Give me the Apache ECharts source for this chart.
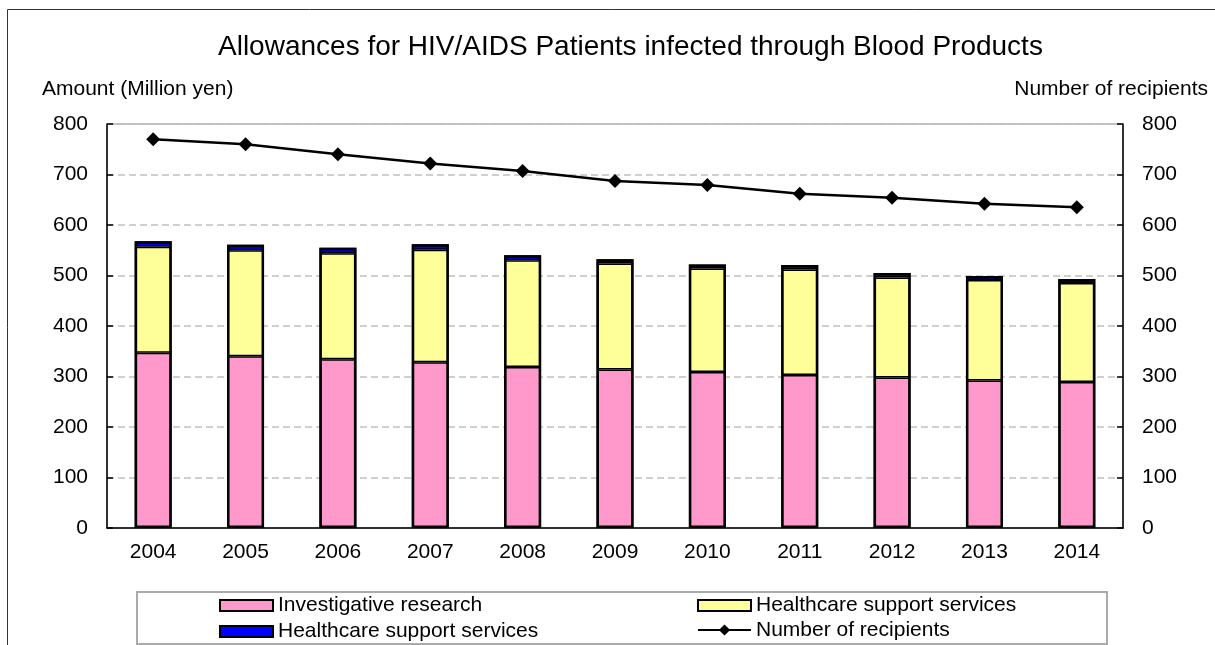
<!DOCTYPE html>
<html>
<head>
<meta charset="utf-8">
<script src="https://cdn.jsdelivr.net/npm/echarts@6/dist/echarts.min.js"></script>
<style>
  html, body { margin: 0; padding: 0; background: #fff; }
  #chart { width: 1215px; height: 645px; }
</style>
</head>
<body>
<div id="chart"></div>
<script>
// Fiscal years
const years = ['2004', '2005', '2006', '2007', '2008', '2009', '2010', '2011', '2012', '2013', '2014'];

// Amounts in million yen
const investigativeResearch = [347, 340, 334, 328, 319, 314, 309, 303, 298, 292, 289];
const healthcareSupportA    = [210, 210, 210, 223, 211, 210, 205, 209, 198, 199, 196];
const healthcareSupportB    = [11, 11, 11, 11, 10, 8, 8, 9, 9, 8, 8];

// Number of recipients
const recipients = [770, 760, 740, 722, 707, 687, 679, 662, 654, 642, 635];

// Shared axis ticks (both axes run 0–800)
const axisMin = 0, axisMax = 800, axisStep = 100;

// Stack totals, used only for the heavy outline around each column
const stackTotals = years.map((_, i) => investigativeResearch[i] + healthcareSupportA[i] + healthcareSupportB[i]);

const FONT = '"Liberation Sans", Arial, sans-serif';
const nameResearch = 'Investigative research';
const nameSupportA = 'Healthcare support services';
const nameSupportB = 'Healthcare support services ';  // same label, distinct series key
const nameRecipients = 'Number of recipients';

const chart = echarts.init(document.getElementById('chart'), null, { renderer: 'canvas' });

const segBorder = { borderColor: '#000', borderWidth: 1.5 };
const legendText = { fontFamily: FONT, fontSize: 21, color: '#000' };

function legendItem(name, left, top, icon, h) {
  return {
    left: left, top: top, orient: 'horizontal',
    itemWidth: 53, itemHeight: h || 11, itemGap: 0,
    textStyle: legendText,
    itemStyle: icon ? { borderColor: '#000', borderWidth: 2 } : {},
    data: [icon ? { name: name, icon: icon } : name]
  };
}

chart.setOption({
  animation: false,
  backgroundColor: '#fff',
  textStyle: { fontFamily: FONT, color: '#000' },
  title: [
    {
      text: 'Allowances for HIV/AIDS Patients infected through Blood Products',
      left: 213, top: 28,
      textStyle: { fontFamily: FONT, fontSize: 28, fontWeight: 'normal', color: '#000' }
    },
    {
      text: 'Amount (Million yen)',
      left: 37, top: 74,
      textStyle: { fontFamily: FONT, fontSize: 21, fontWeight: 'normal', color: '#000' }
    },
    {
      text: 'Number of recipients',
      right: 2, top: 74,
      textStyle: { fontFamily: FONT, fontSize: 21, fontWeight: 'normal', color: '#000' }
    }
  ],
  graphic: [
    {
      type: 'rect', silent: true, z: -10,
      shape: { x: 7.5, y: 9.5, width: 1230, height: 660 },
      style: { fill: 'none', stroke: '#333', lineWidth: 1 }
    },
    {
      type: 'rect', silent: true, z: -5,
      shape: { x: 137, y: 592, width: 970, height: 52 },
      style: { fill: '#fff', stroke: '#aaa', lineWidth: 2 }
    }
  ],
  legend: [
    legendItem(nameResearch, 214, 590, 'rect'),
    legendItem(nameSupportB, 214, 616, 'rect'),
    legendItem(nameSupportA, 692, 590, 'rect'),
    legendItem(nameRecipients, 692, 614.5, null, 14)
  ],
  grid: {
    left: 107, right: 92, top: 124, bottom: 117,
    show: true, borderColor: '#888', borderWidth: 1, backgroundColor: 'transparent'
  },
  xAxis: {
    type: 'category',
    data: years,
    boundaryGap: true,
    axisLine: { lineStyle: { color: '#000', width: 1.5 } },
    axisTick: { inside: true, length: 6, lineStyle: { color: '#000', width: 1.5 } },
    axisLabel: { fontFamily: FONT, fontSize: 21, color: '#000', margin: 14 }
  },
  yAxis: [
    {
      type: 'value', min: axisMin, max: axisMax, interval: axisStep,
      axisLine: { show: true, lineStyle: { color: '#000', width: 1.5 } },
      axisTick: { show: true, inside: true, length: 6, lineStyle: { color: '#000', width: 1.5 } },
      axisLabel: { fontFamily: FONT, fontSize: 21, color: '#000', margin: 19 },
      splitLine: { show: true, lineStyle: { color: '#c0c0c0', width: 1.5, type: [7, 4] } }
    },
    {
      type: 'value', min: axisMin, max: axisMax, interval: axisStep, position: 'right',
      axisLine: { show: true, lineStyle: { color: '#000', width: 1.5 } },
      axisTick: { show: true, inside: true, length: 6, lineStyle: { color: '#000', width: 1.5 } },
      axisLabel: { fontFamily: FONT, fontSize: 21, color: '#000', margin: 19 },
      splitLine: { show: false }
    }
  ],
  series: [
    {
      name: nameResearch, type: 'bar', stack: 'amount', barWidth: 37,
      itemStyle: Object.assign({ color: '#FF99CC' }, segBorder),
      data: investigativeResearch
    },
    {
      name: nameSupportA, type: 'bar', stack: 'amount', barWidth: 37,
      itemStyle: Object.assign({ color: '#FFFF99' }, segBorder),
      data: healthcareSupportA
    },
    {
      name: nameSupportB, type: 'bar', stack: 'amount', barWidth: 37,
      itemStyle: Object.assign({ color: '#0000FF' }, segBorder),
      data: healthcareSupportB
    },
    {
      // heavy outline around each whole column
      name: 'outline', type: 'bar', barWidth: 37, barGap: '-100%', z: 3, silent: true,
      itemStyle: { color: 'rgba(0,0,0,0)', borderColor: '#000', borderWidth: 2.5 },
      data: stackTotals
    },
    {
      name: nameRecipients, type: 'line', yAxisIndex: 1,
      symbol: 'diamond', symbolSize: 14, z: 5,
      lineStyle: { color: '#000', width: 2.5 },
      itemStyle: { color: '#000' },
      data: recipients
    }
  ]
});
</script>
</body>
</html>
